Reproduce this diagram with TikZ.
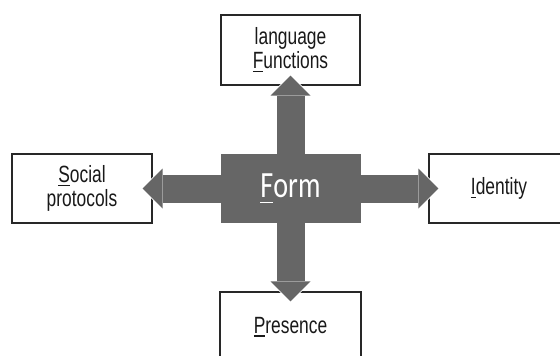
\documentclass[tikz,border=0pt]{standalone}
\usepackage{fontspec}
\newfontfamily\boxfont[FakeStretch=0.74]{Liberation Sans}
\newfontfamily\formfont[FakeStretch=0.76]{Carlito}
\usetikzlibrary{arrows.meta}
\definecolor{arrowgray}{RGB}{102,102,102}
\definecolor{boxline}{RGB}{40,40,40}
\newcommand\ulchar[1]{\setbox0\hbox{#1}\rlap{\rule[-3.5pt]{\wd0}{1.5pt}}\box0}
\newcommand\ulcharbig[1]{\setbox0\hbox{#1}\rlap{\rule[-6pt]{\wd0}{1.8pt}}\box0}
\pgfdeclarelayer{bg}\pgfdeclarelayer{fg}\pgfsetlayers{bg,main,fg}
\begin{document}
\begin{tikzpicture}[x=1pt,y=-1pt,
  topicbox/.style={draw=boxline, line width=1.1pt, fill=white, inner sep=0pt, align=center, text=black!90, font=\boxfont\fontsize{23.5}{24}\selectfont},
  formbox/.style={fill=arrowgray, inner sep=0pt, minimum width=140pt, minimum height=69pt, text=white, font=\formfont\fontsize{37}{40}\selectfont},
  bigarrow/.style={line width=28pt, arrowgray, shorten >=-10pt, -{Triangle[length=20pt,width=40pt,line width=0pt]}},
  halo/.style={line width=30.5pt, white, shorten >=-11.5pt, -{Triangle[length=22.5pt,width=44pt,line width=0pt]}}]
\useasboundingbox (0,0) rectangle (560,356);
\begin{pgfonlayer}{bg}
\fill[white] (0,0) rectangle (560,356);
\node[topicbox, minimum width=139pt, minimum height=70pt] (top) at (290.5,50) {language\\\ulchar{F}unctions};
\node[topicbox, minimum width=140pt, minimum height=69pt] (left) at (82,188.5) {\ulchar{S}ocial\\protocols};
\node[topicbox, minimum width=140pt, minimum height=69pt] (right) at (499,188.5) {\ulchar{I}dentity};
\node[topicbox, minimum width=141pt, minimum height=70pt] (bottom) at (290.5,327) {\ulchar{P}resence};
\end{pgfonlayer}
\begin{pgfonlayer}{fg}
\node[formbox] (form) at (290.5,188.5) {\ulcharbig{F}orm};
\end{pgfonlayer}
\foreach \t in {top,left,right,bottom} \draw[halo] (form.center) -- (\t);
\foreach \t in {top,left,right,bottom} \draw[bigarrow] (form.center) -- (\t);
\end{tikzpicture}
\end{document}
